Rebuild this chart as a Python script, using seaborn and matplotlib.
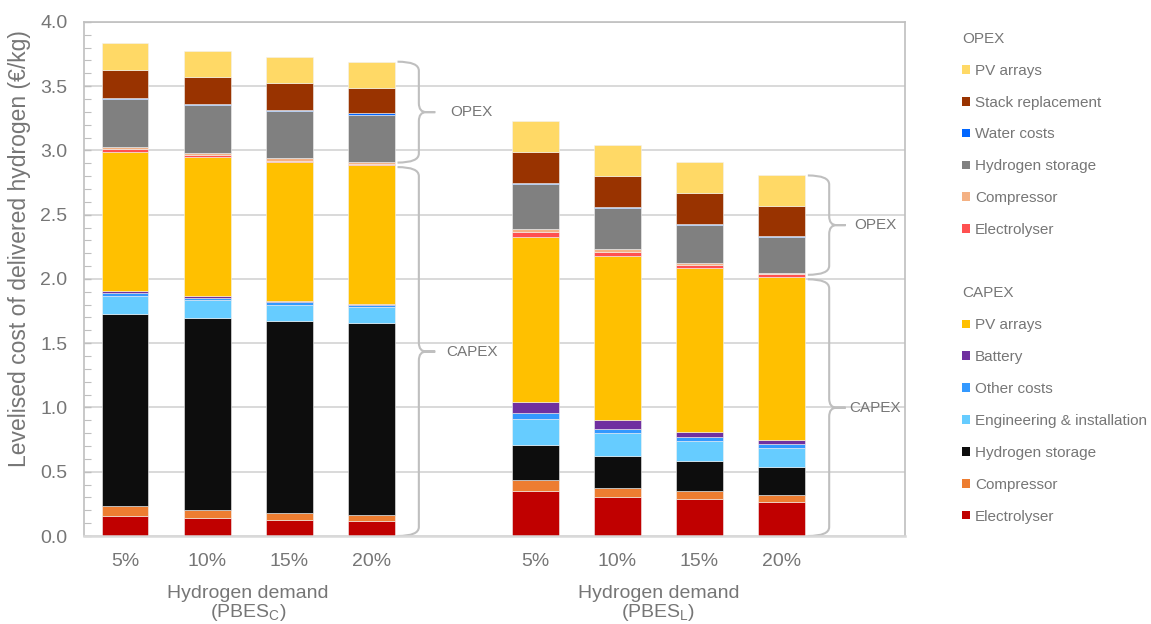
import matplotlib
matplotlib.use("Agg")
import matplotlib.pyplot as plt
from matplotlib.patches import Patch, PathPatch
from matplotlib.path import Path
from matplotlib.ticker import MultipleLocator, FormatStrFormatter
import seaborn as sns
import numpy as np
import pandas as pd

# Hydrogen demand levels, shown once for PBES_C and once for PBES_L
demand_levels = ["5%", "10%", "15%", "20%"]
system_labels = ["Hydrogen demand\n(PBES$_\\mathregular{C}$)", "Hydrogen demand\n(PBES$_\\mathregular{L}$)"]
bar_positions = [0, 1, 2, 3, 5, 6, 7, 8]

# Levelised cost components (EUR/kg): PBES_C 5..20 %, then PBES_L 5..20 %
capex_electrolyser = [0.158, 0.140, 0.127, 0.119, 0.352, 0.305, 0.287, 0.267]
capex_compressor = [0.078, 0.060, 0.052, 0.044, 0.083, 0.068, 0.060, 0.054]
capex_h2_storage = [1.494, 1.494, 1.494, 1.494, 0.272, 0.251, 0.233, 0.217]
capex_engineering = [0.137, 0.141, 0.122, 0.128, 0.207, 0.176, 0.158, 0.146]
capex_other = [0.023, 0.020, 0.022, 0.013, 0.042, 0.034, 0.031, 0.028]
capex_battery = [0.014, 0.012, 0.009, 0.005, 0.088, 0.065, 0.044, 0.034]
capex_pv = [1.086, 1.085, 1.083, 1.082, 1.282, 1.282, 1.269, 1.266]
opex_electrolyser = [0.020, 0.013, 0.012, 0.010, 0.041, 0.028, 0.029, 0.026]
opex_compressor = [0.020, 0.015, 0.016, 0.011, 0.023, 0.021, 0.016, 0.011]
opex_h2_storage = [0.366, 0.372, 0.368, 0.371, 0.348, 0.321, 0.292, 0.277]
opex_water = [0.010, 0.010, 0.010, 0.010, 0.005, 0.005, 0.005, 0.005]
opex_stack = [0.223, 0.212, 0.207, 0.199, 0.247, 0.241, 0.246, 0.239]
opex_pv = [0.207, 0.202, 0.203, 0.204, 0.242, 0.241, 0.236, 0.235]

# legend order (top of stack first)
opex_series = {
    "PV arrays": opex_pv,
    "Stack replacement": opex_stack,
    "Water costs": opex_water,
    "Hydrogen storage": opex_h2_storage,
    "Compressor": opex_compressor,
    "Electrolyser": opex_electrolyser,
}
capex_series = {
    "PV arrays": capex_pv,
    "Battery": capex_battery,
    "Other costs": capex_other,
    "Engineering & installation": capex_engineering,
    "Hydrogen storage": capex_h2_storage,
    "Compressor": capex_compressor,
    "Electrolyser": capex_electrolyser,
}

opex_colors = ["#FFD966", "#993300", "#0066FF", "#808080", "#F4B183", "#FF5050"]
capex_colors = ["#FFC000", "#7030A0", "#3399FF", "#66CCFF", "#0D0D0D", "#ED7D31", "#C00000"]

# long table for seaborn
rows = []
palette = {}
hue_order = []
for kind, series, colors in [("OPEX", opex_series, opex_colors), ("CAPEX", capex_series, capex_colors)]:
    for (name, values), col in zip(series.items(), colors):
        key = kind + " | " + name
        hue_order.append(key)
        palette[key] = col
        for pos, v in zip(bar_positions, values):
            rows.append({"pos": pos, "component": key, "cost": v})
df = pd.DataFrame(rows)

sns.set_theme(style="white")
plt.rcParams["font.family"] = ["Liberation Sans", "DejaVu Sans"]
text_grey = "#767676"
line_grey = "#BFBFBF"

fig = plt.figure(figsize=(11.51, 6.24), dpi=100)
ax = fig.add_axes([0.073, 0.141, 0.713, 0.824])

sns.histplot(data=df, x="pos", weights="cost", hue="component", hue_order=hue_order,
             multiple="stack", discrete=True, shrink=0.57, palette=palette, alpha=1,
             edgecolor="#F2F2F2", linewidth=0.4, legend=False, ax=ax)

ax.set_xlim(-0.5, 9.5)
ax.set_ylim(0, 4)
ax.set_xticks(bar_positions, demand_levels * 2)
ax.yaxis.set_major_locator(MultipleLocator(0.5))
ax.yaxis.set_minor_locator(MultipleLocator(0.1))
ax.yaxis.set_major_formatter(FormatStrFormatter("%.1f"))
ax.tick_params(axis="x", length=0, pad=12, labelsize=14, labelcolor=text_grey)
ax.tick_params(axis="y", which="both", direction="in", left=True, color=line_grey,
               labelsize=14, labelcolor=text_grey, pad=12)
ax.tick_params(axis="y", which="major", length=5, width=1)
ax.tick_params(axis="y", which="minor", length=5, width=0.8)
ax.grid(axis="y", color="#D9D9D9", linewidth=1.4)
ax.grid(axis="x", visible=False)
ax.set_axisbelow(True)
for side in ["left", "top", "right"]:
    ax.spines[side].set_color(line_grey)
    ax.spines[side].set_linewidth(1.2)
ax.spines["bottom"].set_color("#D9D9D9")
ax.spines["bottom"].set_linewidth(1.8)

ax.set_xlabel("")
ax.set_ylabel("Levelised cost of delivered hydrogen (€/kg)", fontsize=16.5, color=text_grey)
ax.yaxis.set_label_coords(-0.065, 0.56)

# group labels under each set of bars
for i, lab in enumerate(system_labels):
    centre = np.mean(bar_positions[4 * i:4 * i + 4])
    ax.text(centre, -0.133, lab, transform=ax.get_xaxis_transform(), ha="center", va="center",
            fontsize=14, color=text_grey, linespacing=1.0)


def draw_brace(ax, x0, top, bottom, label, gap):
    w, tip, rx, ry = 0.26, 0.2, 0.09, 0.07
    xm = x0 + w
    mid = (top + bottom) / 2
    verts = [(x0, top), (xm, top), (xm, top - ry),
             (xm, mid + ry), (xm, mid), (xm + rx, mid),
             (xm + tip, mid), (xm + rx, mid),
             (xm, mid), (xm, mid - ry),
             (xm, bottom + ry), (xm, bottom), (x0, bottom)]
    codes = [Path.MOVETO, Path.CURVE3, Path.CURVE3,
             Path.LINETO, Path.CURVE3, Path.CURVE3,
             Path.LINETO, Path.LINETO,
             Path.CURVE3, Path.CURVE3,
             Path.LINETO, Path.CURVE3, Path.CURVE3]
    ax.add_patch(PathPatch(Path(verts, codes), fill=False, edgecolor=line_grey, linewidth=1.5,
                           clip_on=False))
    ax.text(xm + tip + gap, mid, label, ha="left", va="center", fontsize=11, color=text_grey)


# braces next to the 20 % bar of each group
for i, gap in enumerate([0.13, 0.05]):
    last = 4 * i + 3
    capex_total = sum(s[last] for s in capex_series.values())
    total = capex_total + sum(s[last] for s in opex_series.values())
    x0 = bar_positions[last] + 0.32
    draw_brace(ax, x0, total, capex_total + 0.02, "OPEX", gap + 0.05)
    draw_brace(ax, x0, capex_total - 0.015, 0.0, "CAPEX", gap)

# legend: two blocks with headings
leg_kw = dict(loc="upper left", frameon=False, alignment="left", fontsize=11, title_fontsize=11,
              labelcolor=text_grey, handlelength=0.5, handleheight=0.5, handletextpad=0.35,
              labelspacing=1.17, borderpad=0, borderaxespad=0)
opex_handles = [Patch(facecolor=c, edgecolor="none", label=n) for n, c in zip(opex_series, opex_colors)]
capex_handles = [Patch(facecolor=c, edgecolor="none", label=n) for n, c in zip(capex_series, capex_colors)]
leg1 = fig.legend(handles=opex_handles, title="OPEX", bbox_to_anchor=(0.836, 0.949), **leg_kw)
leg2 = fig.legend(handles=capex_handles, title="CAPEX", bbox_to_anchor=(0.836, 0.541), **leg_kw)
for leg in (leg1, leg2):
    leg.get_title().set_color(text_grey)

fig.savefig("out.png", dpi=100)
